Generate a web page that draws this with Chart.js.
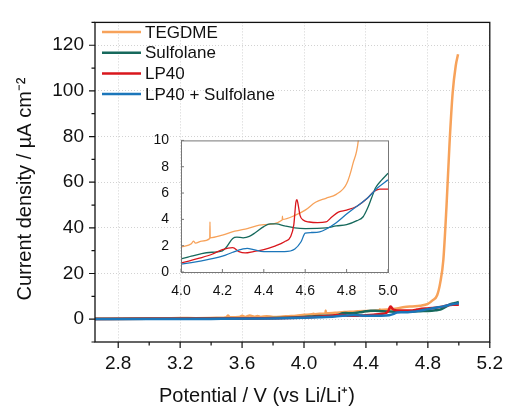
<!DOCTYPE html>
<html>
<head>
<meta charset="utf-8">
<script src="https://cdn.jsdelivr.net/npm/chart.js@4"></script>
<style>
  body { margin: 0; background: #fff; }
  #wrap { position: relative; width: 513px; height: 406px; }
  #main { position: absolute; left: 0; top: 0; }
  #inset { position: absolute; left: 150px; top: 128px; }
</style>
</head>
<body>
<div id="wrap">
  <canvas id="main" width="513" height="406"></canvas>
  <canvas id="inset" width="270" height="170"></canvas>
</div>
<script>
// Series (potential in V vs Li/Li+, current density in µA cm-2)
const seriesNames = ['TEGDME', 'Sulfolane', 'LP40', 'LP40 + Sulfolane'];
const seriesColors = ['#f7a25a', '#16695c', '#d9161c', '#1b76ba'];

const tegdmeV = [2.65, 2.9, 3.1, 3.2, 3.3, 3.45, 3.5, 3.51, 3.52, 3.58, 3.6, 3.62, 3.65, 3.68, 3.7, 3.72, 3.76, 3.8, 3.85, 3.9, 3.95,
  4.0, 4.05, 4.06, 4.07, 4.1, 4.139, 4.14, 4.141, 4.2, 4.26, 4.32, 4.4, 4.489, 4.49, 4.491, 4.55, 4.6, 4.65, 4.7, 4.75, 4.8, 4.83,
  4.86, 4.88, 4.9, 4.92, 4.94, 4.96, 4.98, 4.995];
const tegdmeJ = [0.3, 0.35, 0.4, 0.5, 0.45, 0.6, 0.9, 1.6, 0.8, 0.9, 1.5, 1.0, 1.6, 1.1, 1.4, 1.0, 1.3, 1.0, 1.1, 1.3, 1.5,
  1.9, 2.15, 2.35, 2.2, 2.35, 2.55, 3.8, 2.6, 2.8, 3.1, 3.3, 3.6, 3.95, 4.25, 4.0, 4.3, 4.7, 5.3, 5.6, 5.9, 6.7, 8.2,
  10.5, 16, 26, 49, 77, 99, 111, 116];

const sulfV = [2.65, 3.0, 3.4, 3.8, 4.0, 4.05, 4.1, 4.15, 4.2, 4.22, 4.25, 4.27, 4.3, 4.33, 4.36, 4.4, 4.43, 4.46, 4.5, 4.55,
  4.6, 4.7, 4.75, 4.8, 4.85, 4.88, 4.9, 4.92, 4.94, 4.97, 5.0];
const sulfJ = [0.1, 0.15, 0.25, 0.5, 1.0, 1.2, 1.4, 1.5, 1.6, 1.9, 2.55, 2.65, 2.6, 2.7, 3.0, 3.45, 3.65, 3.65, 3.5, 3.35,
  3.3, 3.35, 3.5, 3.6, 3.9, 4.2, 4.8, 5.6, 6.4, 7.0, 7.5];

const lp40V = [2.65, 3.0, 3.4, 3.8, 4.0, 4.1, 4.15, 4.2, 4.25, 4.28, 4.31, 4.35, 4.4, 4.45, 4.5, 4.53, 4.545, 4.555, 4.56,
  4.565, 4.575, 4.59, 4.62, 4.66, 4.7, 4.73, 4.76, 4.8, 4.85, 4.9, 4.93, 4.96, 5.0];
const lp40J = [0.1, 0.15, 0.2, 0.4, 0.7, 1.1, 1.35, 1.7, 1.85, 1.55, 1.45, 1.55, 1.7, 1.95, 2.3, 2.7, 3.6, 5.3, 5.5,
  5.2, 4.3, 3.95, 3.8, 3.75, 3.8, 4.2, 4.55, 4.7, 5.0, 5.6, 6.1, 6.3, 6.3];

const mixV = [2.65, 3.0, 3.4, 3.8, 4.0, 4.1, 4.2, 4.25, 4.3, 4.32, 4.35, 4.4, 4.5, 4.55, 4.58, 4.6, 4.63, 4.67, 4.7, 4.75,
  4.8, 4.85, 4.9, 4.95, 5.0];
const mixJ = [0.05, 0.08, 0.12, 0.3, 0.6, 0.85, 1.2, 1.5, 1.75, 1.8, 1.7, 1.55, 1.55, 1.75, 2.3, 2.95, 3.0, 3.05, 3.25, 3.75,
  4.4, 5.0, 5.6, 6.4, 7.0];

// Axis ticks
const mainXTicks = [2.8, 3.2, 3.6, 4.0, 4.4, 4.8, 5.2];
const mainXMinor = [3.0, 3.4, 3.8, 4.2, 4.6, 5.0];
const mainYTicks = [0, 20, 40, 60, 80, 100, 120];
const mainYMinor = [-10, 10, 30, 50, 70, 90, 110, 130];
const insetXTicks = [4.0, 4.2, 4.4, 4.6, 4.8, 5.0];
const insetYTicks = [0, 2, 4, 6, 8, 10];

const allV = [tegdmeV, sulfV, lp40V, mixV];
const allJ = [tegdmeJ, sulfJ, lp40J, mixJ];

const FONT = 'Liberation Sans, Arial, sans-serif';

function makeDatasets(width) {
  return seriesNames.map((name, i) => ({
    label: name,
    data: allV[i].map((v, k) => ({ x: v, y: allJ[i][k] })),
    borderColor: seriesColors[i],
    borderWidth: width,
    pointRadius: 0,
    cubicInterpolationMode: 'monotone',
    order: 4 - i
  }));
}

function setTicks(list) {
  return function (scale) { scale.ticks = list.map(v => ({ value: v })); };
}

// Box, outward tick marks, axis titles and legend for the main plot
const mainDecor = {
  id: 'mainDecor',
  afterDraw(chart) {
    const { ctx, chartArea: a, scales: { x, y } } = chart;
    ctx.save();
    ctx.strokeStyle = '#111';
    ctx.lineWidth = 1.3;
    ctx.strokeRect(a.left, a.top, a.right - a.left, a.bottom - a.top);
    ctx.lineWidth = 1.2;
    ctx.beginPath();
    mainXTicks.forEach(v => { const p = x.getPixelForValue(v); ctx.moveTo(p, a.bottom); ctx.lineTo(p, a.bottom + 6); });
    mainXMinor.forEach(v => { const p = x.getPixelForValue(v); ctx.moveTo(p, a.bottom); ctx.lineTo(p, a.bottom + 3.5); });
    mainYTicks.forEach(v => { const p = y.getPixelForValue(v); ctx.moveTo(a.left, p); ctx.lineTo(a.left - 6, p); });
    mainYMinor.forEach(v => { const p = y.getPixelForValue(v); ctx.moveTo(a.left, p); ctx.lineTo(a.left - 3.5, p); });
    ctx.stroke();

    // axis titles
    ctx.fillStyle = '#111';
    ctx.font = '20px ' + FONT;
    ctx.textAlign = 'center';
    ctx.textBaseline = 'middle';
    ctx.fillText('Potential / V (vs Li/Li\u207A)', 257, 396);
    ctx.save();
    ctx.translate(25, 189);
    ctx.rotate(-Math.PI / 2);
    ctx.fillText('Current density / \u00B5A cm\u207B\u00B2', 0, 0);
    ctx.restore();

    // legend
    ctx.font = '17px ' + FONT;
    ctx.textAlign = 'left';
    seriesNames.forEach((name, i) => {
      const ly = 32 + i * 20.7;
      ctx.strokeStyle = seriesColors[i];
      ctx.lineWidth = 2.5;
      ctx.beginPath();
      ctx.moveTo(102, ly);
      ctx.lineTo(141, ly);
      ctx.stroke();
      ctx.fillText(name, 145, ly + 1);
    });
    ctx.restore();
  }
};

const insetDecor = {
  id: 'insetDecor',
  beforeDraw(chart) {
    const { ctx, chartArea: a } = chart;
    ctx.save();
    ctx.fillStyle = '#fff';
    ctx.fillRect(a.left, a.top, a.right - a.left, a.bottom - a.top);
    ctx.restore();
  },
  afterDraw(chart) {
    const { ctx, chartArea: a, scales: { x, y } } = chart;
    ctx.save();
    ctx.strokeStyle = '#777';
    ctx.lineWidth = 1;
    ctx.strokeRect(a.left + 0.5, a.top + 0.5, a.right - a.left, a.bottom - a.top);
    ctx.beginPath();
    insetXTicks.forEach(v => { const p = x.getPixelForValue(v); ctx.moveTo(p, a.bottom); ctx.lineTo(p, a.bottom - 3); });
    insetYTicks.forEach(v => { const p = y.getPixelForValue(v); ctx.moveTo(a.left, p); ctx.lineTo(a.left + 3, p); });
    ctx.stroke();
    ctx.restore();
  }
};

new Chart(document.getElementById('main'), {
  type: 'line',
  data: { datasets: makeDatasets(2.5) },
  options: {
    responsive: false,
    animation: false,
    devicePixelRatio: 1,
    layout: { padding: { top: 16, right: 14, left: 0, bottom: 0 } },
    plugins: { legend: { display: false }, tooltip: { enabled: false } },
    scales: {
      x: {
        type: 'linear',
        min: 2.65,
        max: 5.2,
        afterBuildTicks: setTicks(mainXTicks),
        afterFit(scale) { scale.height = 64; },
        grid: { color: '#d2d2d2', lineWidth: 1, drawTicks: false },
        border: { display: false, dash: [1, 2] },
        ticks: {
          padding: 10,
          color: '#111',
          font: { family: FONT, size: 19 },
          callback: v => v.toFixed(1)
        }
      },
      y: {
        type: 'linear',
        min: -10,
        max: 130,
        afterBuildTicks: setTicks(mainYTicks),
        afterFit(scale) { scale.width = 95; },
        grid: { color: '#d2d2d2', lineWidth: 1, drawTicks: false },
        border: { display: false, dash: [1, 2] },
        ticks: {
          padding: 11,
          color: '#111',
          font: { family: FONT, size: 19 }
        }
      }
    }
  },
  plugins: [mainDecor]
});

new Chart(document.getElementById('inset'), {
  type: 'line',
  data: { datasets: makeDatasets(1.3) },
  options: {
    responsive: false,
    animation: false,
    devicePixelRatio: 1,
    layout: { padding: { top: 11, right: 32, left: 0, bottom: 0 } },
    plugins: { legend: { display: false }, tooltip: { enabled: false } },
    scales: {
      x: {
        type: 'linear',
        min: 4.0,
        max: 5.0,
        afterBuildTicks: setTicks(insetXTicks),
        afterFit(scale) { scale.height = 26; },
        grid: { display: false },
        border: { display: false },
        ticks: {
          padding: 3,
          color: '#111',
          font: { family: FONT, size: 14 },
          callback: v => v.toFixed(1)
        }
      },
      y: {
        type: 'linear',
        min: 0,
        max: 10,
        afterBuildTicks: setTicks(insetYTicks),
        afterFit(scale) { scale.width = 31; },
        grid: { display: false },
        border: { display: false },
        ticks: {
          padding: 4,
          color: '#111',
          font: { family: FONT, size: 14 }
        }
      }
    }
  },
  plugins: [insetDecor]
});
</script>
</body>
</html>
